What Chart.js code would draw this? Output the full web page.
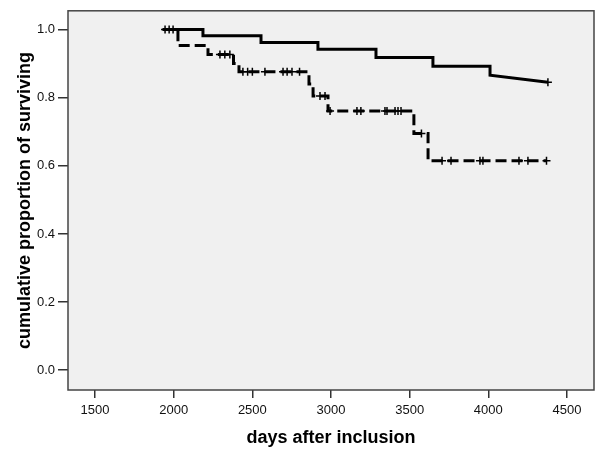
<!DOCTYPE html>
<html>
<head>
<meta charset="utf-8">
<script src="https://cdn.jsdelivr.net/npm/chart.js@4.4.1/dist/chart.umd.min.js"></script>
<style>
  html, body { margin: 0; padding: 0; background: #fff; }
  #wrap { width: 600px; height: 460px; }
</style>
</head>
<body>
<div id="wrap"><canvas id="km"></canvas></div>
<script>
// ticks
const xTicks = [1500, 2000, 2500, 3000, 3500, 4000, 4500];
const yTicks = [0, 0.2, 0.4, 0.6, 0.8, 1.0];

// group 1 (solid)
const g1Start = 1930;
const g1StepDays = [2186, 2555, 2917, 3286, 3648, 4011];
const g1StepSurv = [0.982, 0.962, 0.942, 0.918, 0.892, 0.866];
const g1EndDay = 4379;
const g1EndSurv = 0.845;
const g1Censor = [1945, 1971, 1996, 4379];

// group 2 (dashed)
const g2Start = 1930;
const g2StepDays = [2027, 2218, 2380, 2415, 2860, 2886, 2981, 3527, 3617];
const g2StepSurv = [0.953, 0.927, 0.900, 0.876, 0.840, 0.805, 0.761, 0.695, 0.615];
const g2EndDay = 4370;
const g2Censor = [2294, 2325, 2357, 2440, 2470, 2500, 2580, 2695, 2721, 2752, 2800,
  2930, 2962, 2994, 3165, 3190, 3343, 3356, 3407, 3426, 3445, 3575,
  3706, 3763, 3947, 3966, 4195, 4252, 4370];

// build step curve
const stepCurve = function (start, days, surv, endDay, endSurv) {
  const pts = [{ x: start, y: 1 }];
  let prev = 1;
  days.forEach(function (d, i) {
    pts.push({ x: d, y: prev });
    pts.push({ x: d, y: surv[i] });
    prev = surv[i];
  });
  pts.push({ x: endDay, y: endSurv ?? prev });
  return pts;
};

// survival level at a day (for censor marks)
const survAt = function (day, days, surv, endDay, endSurv) {
  let s = 1;
  days.forEach(function (d, i) {
    if (day >= d) s = surv[i];
  });
  if (endSurv !== undefined && day >= endDay) s = endSurv;
  return s;
};

const g1Line = stepCurve(g1Start, g1StepDays, g1StepSurv, g1EndDay, g1EndSurv);
const g2Line = stepCurve(g2Start, g2StepDays, g2StepSurv, g2EndDay);
const g1Marks = g1Censor.map(function (d) {
  return { x: d, y: survAt(d, g1StepDays, g1StepSurv, g1EndDay, g1EndSurv) };
});
const g2Marks = g2Censor.map(function (d) {
  return { x: d, y: survAt(d, g2StepDays, g2StepSurv) };
});

// plot background + frame
const framePlugin = {
  id: "frame",
  beforeDraw: function (chart) {
    const a = chart.chartArea;
    const c = chart.ctx;
    c.save();
    c.fillStyle = "#f0f0f0";
    c.fillRect(a.left, a.top, a.right - a.left, a.bottom - a.top);
    c.restore();
  },
  afterDraw: function (chart) {
    const a = chart.chartArea;
    const c = chart.ctx;
    c.save();
    c.strokeStyle = "#444";
    c.lineWidth = 1.5;
    c.strokeRect(a.left, a.top, a.right - a.left, a.bottom - a.top);
    c.restore();
  },
};

const tickFont = { family: "'Liberation Sans', Arial, sans-serif", size: 13 };
const titleFont = { family: "'Liberation Sans', Arial, sans-serif", size: 18, weight: "bold" };

new Chart(document.getElementById("km"), {
  type: "line",
  data: {
    datasets: [
      {
        data: g1Line,
        borderColor: "#000",
        borderWidth: 3,
        pointRadius: 0,
        fill: false,
        tension: 0,
      },
      {
        data: g2Line,
        borderColor: "#000",
        borderWidth: 3,
        borderDash: [11, 5],
        pointRadius: 0,
        fill: false,
        tension: 0,
      },
      {
        data: g1Marks,
        showLine: false,
        pointStyle: "cross",
        pointRadius: 4,
        pointBorderWidth: 1.5,
        pointBorderColor: "#000",
      },
      {
        data: g2Marks,
        showLine: false,
        pointStyle: "cross",
        pointRadius: 4,
        pointBorderWidth: 1.5,
        pointBorderColor: "#000",
      },
    ],
  },
  options: {
    responsive: true,
    maintainAspectRatio: false,
    animation: false,
    layout: { padding: { top: 8, right: 6, left: 0, bottom: 0 } },
    plugins: { legend: { display: false }, tooltip: { enabled: false } },
    scales: {
      x: {
        type: "linear",
        min: 1328,
        max: 4672,
        afterBuildTicks: function (s) { s.ticks = xTicks.map(function (v) { return { value: v }; }); },
        afterFit: function (s) { s.height = 70; },
        grid: { drawOnChartArea: false, tickLength: 8, color: "#333", lineWidth: 1.5 },
        border: { display: false },
        ticks: { font: tickFont, color: "#111", padding: 5, maxRotation: 0, callback: function (v) { return String(v); } },
        title: { display: true, text: "days after inclusion", font: titleFont, color: "#000", padding: { top: 0, bottom: 11 } },
      },
      y: {
        type: "linear",
        min: -0.058,
        max: 1.055,
        afterBuildTicks: function (s) { s.ticks = yTicks.map(function (v) { return { value: v }; }); },
        afterFit: function (s) { s.width = 68; },
        grid: { drawOnChartArea: false, tickLength: 10, color: "#333", lineWidth: 1.5 },
        border: { display: false },
        ticks: { font: tickFont, color: "#111", padding: 3, callback: function (v) { return v.toFixed(1); } },
        title: { display: true, text: "cumulative proportion of surviving", font: titleFont, color: "#000", padding: { top: 14, bottom: 0 } },
      },
    },
  },
  plugins: [framePlugin],
});
</script>
</body>
</html>
